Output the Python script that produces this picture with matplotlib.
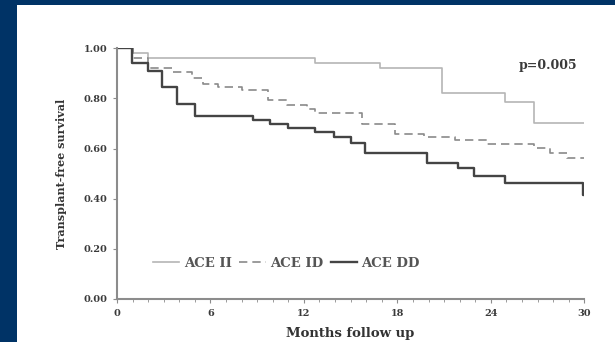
import matplotlib
matplotlib.use("Agg")
import matplotlib.pyplot as plt
from matplotlib.patches import Rectangle

# Kaplan-Meier step data (months, survival)
ii_t = [0, 1.0, 2.0, 12.7, 16.9, 20.85, 24.9, 26.8, 30]
ii_s = [1.0, 0.98, 0.963, 0.94, 0.92, 0.823, 0.787, 0.703, 0.703]

id_t = [0, 1.0, 2.0, 3.5, 4.8, 5.55, 6.5, 8.0, 9.7, 10.9, 12.2, 12.7, 15.7,
        17.85, 19.7, 21.7, 23.75, 26.75, 27.8, 28.9, 30]
id_s = [1.0, 0.96, 0.921, 0.907, 0.88, 0.857, 0.845, 0.834, 0.794, 0.774,
        0.757, 0.741, 0.70, 0.66, 0.647, 0.636, 0.618, 0.601, 0.581, 0.561, 0.561]

dd_t = [0, 0.94, 2.0, 2.87, 3.87, 5.0, 8.75, 9.8, 11.0, 12.7, 13.9, 15.0,
        15.9, 19.9, 21.9, 22.9, 24.9, 29.9, 30]
dd_s = [1.0, 0.94, 0.91, 0.844, 0.778, 0.73, 0.714, 0.698, 0.681, 0.665,
        0.645, 0.621, 0.584, 0.541, 0.521, 0.49, 0.462, 0.415, 0.415]

x_ticks = [0, 6, 12, 18, 24, 30]
y_ticks = [0.0, 0.2, 0.4, 0.6, 0.8, 1.0]
y_ticklabels = ["0.00", "0.20", "0.40", "0.60", "0.80", "1.00"]
labels = ["ACE II", "ACE ID", "ACE DD"]

NAVY = "#003366"
serif = ["DejaVu Serif"]

fig = plt.figure(figsize=(6.15, 3.42), dpi=100)
fig.patch.set_facecolor(NAVY)
fig.patches.append(Rectangle((17 / 615, 0), 1, 1 - 5 / 342, transform=fig.transFigure,
                             facecolor="white", edgecolor="none", zorder=-10))

ax = fig.add_axes([117 / 615, 1 - 299 / 342, (584.3 - 117) / 615, (299 - 48.3) / 342])
ax.set_facecolor("none")

l1, = ax.step(ii_t, ii_s, where="post", color="#b5b5b5", lw=1.2)
l2, = ax.step(id_t, id_s, where="post", color="#8a8a8a", lw=1.2, ls=(0, (5, 3)))
l3, = ax.step(dd_t, dd_s, where="post", color="#444444", lw=1.7)

ax.set_xlim(0, 30)
ax.set_ylim(0, 1.0)
ax.set_xticks(x_ticks)
ax.set_xticks(range(0, 31), minor=True)
ax.set_yticks(y_ticks)
ax.set_yticklabels(y_ticklabels)

for s in ["top", "right"]:
    ax.spines[s].set_visible(False)
for s in ["left", "bottom"]:
    ax.spines[s].set_color("#8c8c8c")
    ax.spines[s].set_linewidth(1.5)

ax.tick_params(axis="both", which="major", length=3, width=0.8, color="#8c8c8c",
               labelsize=7, labelcolor="#3a3a3a", pad=4)
ax.tick_params(axis="x", which="minor", length=2, width=0.6, color="#8c8c8c")
for lab in ax.get_xticklabels() + ax.get_yticklabels():
    lab.set_family(serif)
    lab.set_fontweight("bold")

ax.set_xlabel("Months follow up", family=serif, fontweight="bold", fontsize=9.5,
              color="#333333", labelpad=7)
ax.set_ylabel("Transplant-free survival", family=serif, fontweight="bold", fontsize=8,
              color="#333333", labelpad=12)

ax.text(27.7, 0.93, "p=0.005", family=serif, fontweight="bold", fontsize=9,
        color="#3a3a3a", ha="center", va="center")

leg = ax.legend([l1, l2, l3], labels, ncol=3, frameon=False, loc="center left",
                bbox_to_anchor=(0.077, 0.142), handlelength=2.0, handletextpad=0.35,
                columnspacing=0.55, borderaxespad=0, borderpad=0,
                prop={"family": serif, "weight": "bold", "size": 9.5})
for t in leg.get_texts():
    t.set_color("#555555")

fig.savefig("out.png", dpi=100, facecolor=fig.get_facecolor())
